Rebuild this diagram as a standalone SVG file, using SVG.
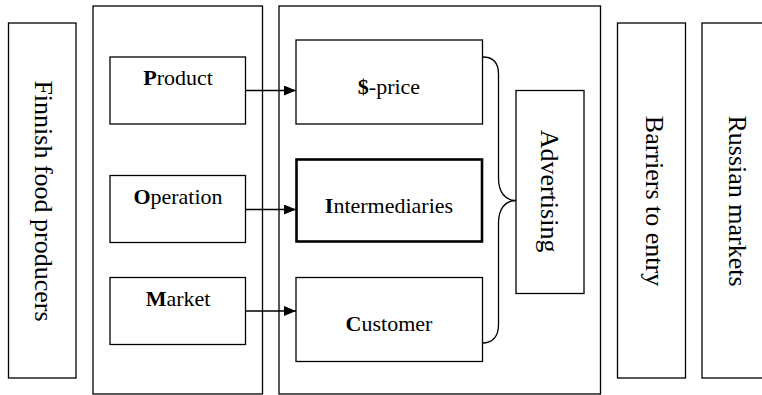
<svg xmlns="http://www.w3.org/2000/svg" width="762" height="395" viewBox="0 0 762 395">
<defs>
<style>
.box{fill:#fff;stroke:#000;stroke-width:1.3}
.thick{fill:#fff;stroke:#000;stroke-width:2.6}
text{font-family:'Liberation Serif',serif;fill:#000;text-anchor:middle}
.t{font-size:22px}
.v{font-size:26px}
.conn{fill:none;stroke:#000;stroke-width:1.3}
.b{font-weight:bold}
</style>
<marker id="arr" markerWidth="12" markerHeight="10" refX="12" refY="5" orient="auto" markerUnits="userSpaceOnUse">
<path d="M0,0 L12,5 L0,10 z" fill="#000"/>
</marker>
</defs>
<rect width="762" height="395" fill="#fff"/>
<g font-family="Liberation Serif, serif">
<g id="finnish"><rect class="box" x="8.5" y="23" width="67.5" height="355"/><text class="v" font-family="Liberation Serif, serif" transform="translate(35,201) rotate(90)">Finnish food producers</text></g>
<g id="left-group"><rect class="box" x="93" y="6" width="169.5" height="388"/></g>
<g id="mid-group"><rect class="box" x="279" y="6" width="321.5" height="388"/></g>
<g id="product"><rect class="box" x="110" y="57" width="135.5" height="67"/><text class="t" font-family="Liberation Serif, serif" x="178" y="85"><tspan class="b">P</tspan>roduct</text></g>
<g id="operation"><rect class="box" x="110" y="175.5" width="135.5" height="67"/><text class="t" font-family="Liberation Serif, serif" x="178" y="203.5"><tspan class="b">O</tspan>peration</text></g>
<g id="market"><rect class="box" x="110" y="277.5" width="135.5" height="67"/><text class="t" font-family="Liberation Serif, serif" x="178" y="305.5"><tspan class="b">M</tspan>arket</text></g>
<g id="price"><rect class="box" x="296" y="40" width="186.5" height="84"/><text class="t" font-family="Liberation Serif, serif" x="389" y="94"><tspan class="b">$</tspan>-price</text></g>
<g id="intermediaries"><rect class="thick" x="296.5" y="159.5" width="185.5" height="82"/><text class="t" font-family="Liberation Serif, serif" x="389" y="213"><tspan class="b">I</tspan>ntermediaries</text></g>
<g id="customer"><rect class="box" x="296" y="277.5" width="186.5" height="84"/><text class="t" font-family="Liberation Serif, serif" x="389" y="331"><tspan class="b">C</tspan>ustomer</text></g>
<g id="advertising"><rect class="box" x="516" y="90.5" width="68" height="203"/><text class="v" font-family="Liberation Serif, serif" transform="translate(541,191) rotate(90)">Advertising</text></g>
<g id="barriers"><rect class="box" x="617.5" y="23" width="68" height="355"/><text class="v" font-family="Liberation Serif, serif" transform="translate(646,201) rotate(90)">Barriers to entry</text></g>
<g id="russian"><rect class="box" x="702" y="23" width="68" height="355"/><text class="v" font-family="Liberation Serif, serif" transform="translate(729,201) rotate(90)">Russian markets</text></g>
</g>
<g id="connectors">
<line class="conn" x1="245.5" y1="90.5" x2="296" y2="90.5" marker-end="url(#arr)"/>
<line class="conn" x1="245.5" y1="209.5" x2="296" y2="209.5" marker-end="url(#arr)"/>
<line class="conn" x1="245.5" y1="311" x2="296" y2="311" marker-end="url(#arr)"/>
<path class="conn" d="M482.5,57 C492,57 498.5,62 498.5,74 L498.5,178 C498.5,192 505,200.5 516,200.5 C505,200.5 498.5,209 498.5,223 L498.5,325 C498.5,337 492,343 482.5,343"/>
</g>
</svg>
